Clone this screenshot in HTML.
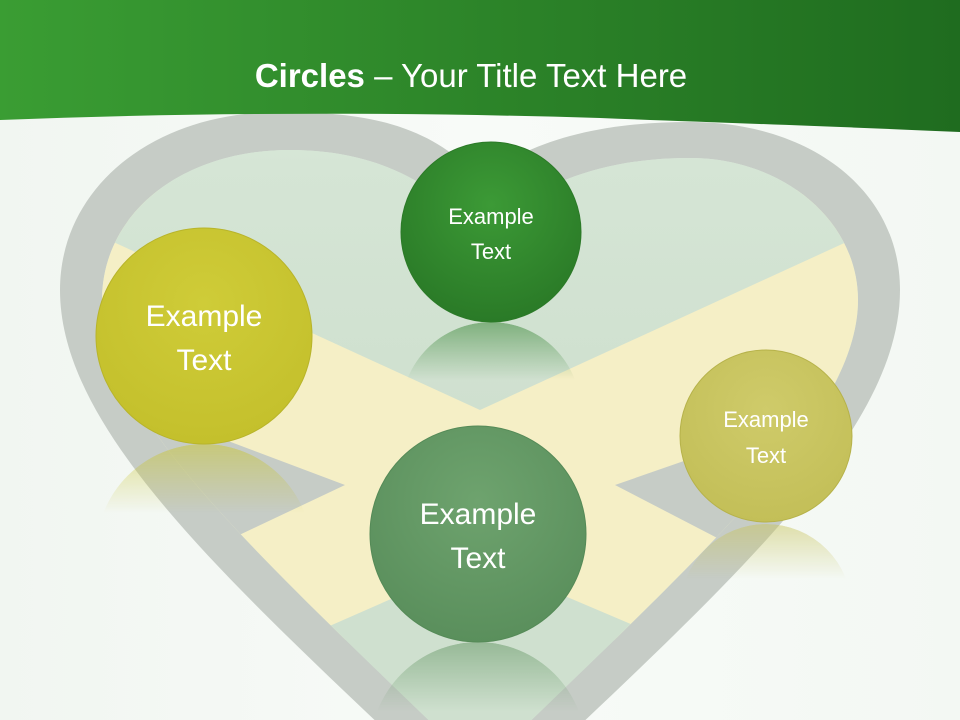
<!DOCTYPE html>
<html><head><meta charset="utf-8"><style>
html,body{margin:0;padding:0;width:960px;height:720px;overflow:hidden;background:#f4f8f4}
svg{display:block}
text{font-family:"Liberation Sans",sans-serif;fill:#fff}
</style></head><body>
<svg width="960" height="720" viewBox="0 0 960 720" xmlns="http://www.w3.org/2000/svg">
<defs>
<linearGradient id="hdr" x1="0" y1="0" x2="1" y2="0">
<stop offset="0" stop-color="#3a9d33"/><stop offset="1" stop-color="#1f6c1f"/></linearGradient>
<linearGradient id="bg" x1="0" y1="0" x2="1" y2="0">
<stop offset="0" stop-color="#f1f6f1"/><stop offset="0.5" stop-color="#f8fbf8"/><stop offset="1" stop-color="#f3f8f3"/></linearGradient>
<clipPath id="ic"><path d="M480,238 C430,172 360,150 290,150 C180,150 102,215 102,300 C102,420 270,565 480,770 C690,565 858,420 858,300 C858,220 782,158 690,158 C600,158 530,185 480,238 Z"/></clipPath>
<clipPath id="vc"><rect width="960" height="720"/></clipPath>
<radialGradient id="gTop" cx="0.5" cy="0.35" r="0.65"><stop offset="0" stop-color="#3c9a36"/><stop offset="1" stop-color="#2a7a27"/></radialGradient>
<radialGradient id="gY" cx="0.5" cy="0.35" r="0.65"><stop offset="0" stop-color="#cfcc38"/><stop offset="1" stop-color="#c4c02c"/></radialGradient>
<radialGradient id="gB" cx="0.5" cy="0.35" r="0.65"><stop offset="0" stop-color="#6ea36e"/><stop offset="1" stop-color="#5a8f5c"/></radialGradient>
<radialGradient id="gR" cx="0.5" cy="0.35" r="0.65"><stop offset="0" stop-color="#cfcb6a"/><stop offset="1" stop-color="#c3bf58"/></radialGradient>
<linearGradient id="inner" x1="0" y1="0" x2="0" y2="1"><stop offset="0" stop-color="#e4eee4"/><stop offset="0.4" stop-color="#d5e5d5"/><stop offset="1" stop-color="#cfe0cf"/></linearGradient>
<linearGradient id="rf" x1="0" y1="0" x2="0" y2="1"><stop offset="0" stop-color="#fff" stop-opacity="0.5"/><stop offset="0.32" stop-color="#fff" stop-opacity="0"/></linearGradient>
<mask id="rm"><rect width="960" height="720" fill="#000"/>
<circle cx="491" cy="412" r="90" fill="url(#rf)"/>
<circle cx="204" cy="552" r="108" fill="url(#rf)"/>
<circle cx="766" cy="610" r="86" fill="url(#rf)"/>
<circle cx="478" cy="750" r="108" fill="url(#rf)"/>
</mask>
</defs>
<g clip-path="url(#vc)">
<rect width="960" height="720" fill="url(#bg)"/>
<path d="M480,180 C430,122 360,112 280,112 C150,112 60,190 60,290 C60,440 250,600 480,820 C710,600 900,440 900,290 C900,190 810,122 690,122 C600,122 530,140 480,180 Z" fill="#c6ccc6"/>
<g clip-path="url(#ic)">
<rect width="960" height="800" fill="url(#inner)"/>
<polygon points="0,190 960,190 960,420 725,545 640,640 325,640 230,540 0,420" fill="#f5efc6"/>
<polygon points="0,0 960,0 960,190 480,410 0,190" fill="url(#inner)"/>
<polygon points="0,355 345,485 235,537 0,545" fill="#c6ccc6"/>
<polygon points="960,365 615,485 725,542 960,545" fill="#c6ccc6"/>
<polygon points="325,628 480,560 640,628 640,800 325,800" fill="#cfe0cf"/>
</g>
<path d="M0,0 H960 V132 C800,125 700,122 600,118 C400,112 200,112 0,120 Z" fill="url(#hdr)"/>
<text x="471" y="87" font-size="33" text-anchor="middle"><tspan font-weight="bold">Circles</tspan> – Your Title Text Here</text>
<g mask="url(#rm)">
<circle cx="491" cy="412" r="90" fill="#2d7f2a"/>
<circle cx="204" cy="552" r="108" fill="#c9c52f"/>
<circle cx="766" cy="610" r="86" fill="#c8c45f"/>
<circle cx="478" cy="750" r="108" fill="#5f935f"/>
</g>
<circle cx="491" cy="232" r="90" fill="url(#gTop)" stroke="#2c7a28" stroke-width="1"/>
<text x="491" y="224" font-size="22" text-anchor="middle">Example</text>
<text x="491" y="259" font-size="22" text-anchor="middle">Text</text>
<circle cx="204" cy="336" r="108" fill="url(#gY)" stroke="#b8b42a" stroke-width="1"/>
<text x="204" y="326" font-size="30" text-anchor="middle">Example</text>
<text x="204" y="370" font-size="30" text-anchor="middle">Text</text>
<circle cx="478" cy="534" r="108" fill="url(#gB)" stroke="#558a57" stroke-width="1"/>
<text x="478" y="524" font-size="30" text-anchor="middle">Example</text>
<text x="478" y="568" font-size="30" text-anchor="middle">Text</text>
<circle cx="766" cy="436" r="86" fill="url(#gR)" stroke="#b6b24a" stroke-width="1"/>
<text x="766" y="427" font-size="22" text-anchor="middle">Example</text>
<text x="766" y="463" font-size="22" text-anchor="middle">Text</text>
</g>
</svg>
</body></html>
